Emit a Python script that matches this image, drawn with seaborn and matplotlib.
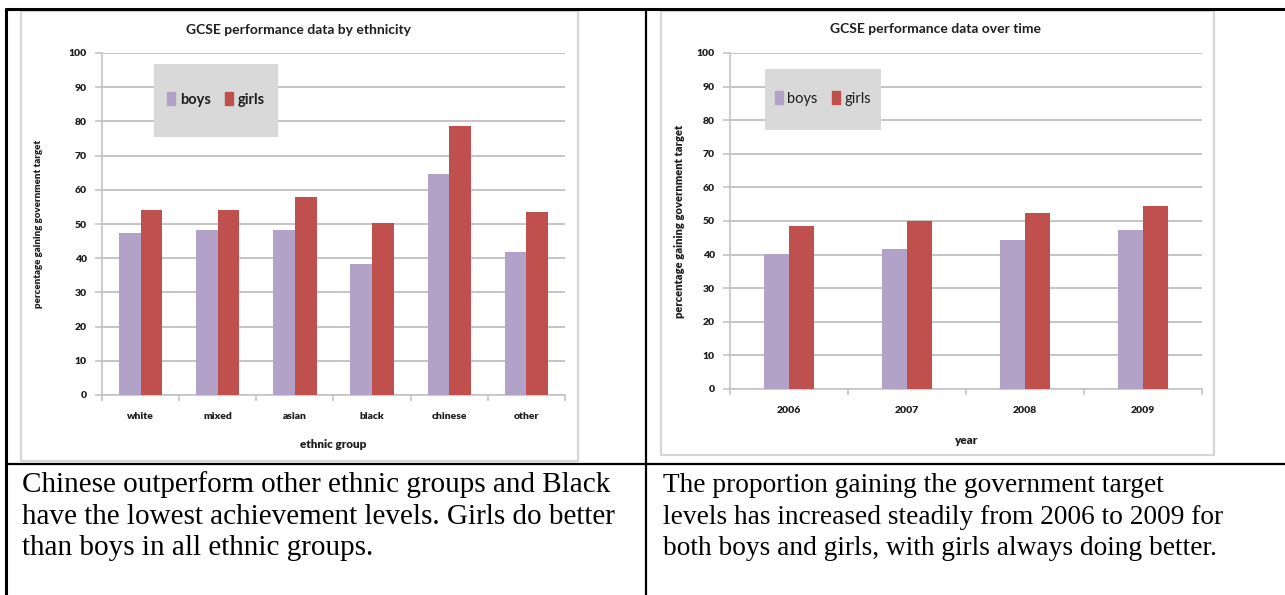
import numpy as np
import pandas as pd
import matplotlib
matplotlib.use("Agg")
import matplotlib.pyplot as plt
from matplotlib.patches import Rectangle
from matplotlib.lines import Line2D
import seaborn as sns

# ---------------- data ----------------
ethnic_groups = ["white", "mixed", "asian", "black", "chinese", "other"]
ethnic_boys = [47.3, 48.1, 48.1, 38.3, 64.7, 41.7]
ethnic_girls = [54.0, 54.1, 58.0, 50.4, 78.7, 53.4]

years = ["2006", "2007", "2008", "2009"]
year_boys = [40.1, 41.7, 44.4, 47.4]
year_girls = [48.4, 50.1, 52.3, 54.5]

series_names = ["boys", "girls"]
yticks = list(range(0, 101, 10))

left_caption = ["Chinese outperform other ethnic groups and Black",
                "have the lowest achievement levels. Girls do better",
                "than boys in all ethnic groups."]
right_caption = ["The proportion gaining the government target",
                 "levels has increased steadily from 2006 to 2009 for",
                 "both boys and girls, with girls always doing better."]

# ---------------- style ----------------
sns.set_theme(style="white")
plt.rcParams["font.family"] = ["Lato", "DejaVu Sans"]

W, H = 1285, 595
fig = plt.figure(figsize=(W / 100, H / 100), dpi=100)
fig.patch.set_facecolor("white")

COL_BOYS = "#b3a2c7"
COL_GIRLS = "#c0504d"
TXT = "#1e1e1e"
GRID = "#c4c4c4"


def fx(x):
    return x / W


def fy(y):
    return 1 - y / H


def px_axes(x0, y0, x1, y1):
    return fig.add_axes([fx(x0), fy(y1), (x1 - x0) / W, (y1 - y0) / H])


# chart frames (light gray boxes)
for (x0, y0, x1, y1) in [(21, 11, 578, 461), (661, 11, 1214, 455)]:
    fig.add_artist(Rectangle((fx(x0), fy(y1)), (x1 - x0) / W, (y1 - y0) / H,
                             transform=fig.transFigure, facecolor="white",
                             edgecolor="#d6d6d6", lw=1.6, zorder=0))


def make_chart(rect, cats, boys, girls, width, xlabel, title, title_xy,
               ylab_x, xlab_y, ylab_size, legend_box, legend_bold):
    ax = px_axes(*rect)
    df = pd.DataFrame({
        "cat": cats * 2,
        "value": list(boys) + list(girls),
        "sex": [series_names[0]] * len(cats) + [series_names[1]] * len(cats),
    })
    sns.barplot(data=df, x="cat", y="value", hue="sex",
                palette=[COL_BOYS, COL_GIRLS], width=width, gap=0,
                saturation=1, ax=ax, legend=False, zorder=3,
                edgecolor="none", linewidth=0)
    ax.set_ylim(0, 100)
    ax.set_xlim(-0.5, len(cats) - 0.5)
    ax.set_facecolor("none")
    for s in ["top", "right"]:
        ax.spines[s].set_visible(False)
    ax.spines["left"].set_color(GRID)
    ax.spines["bottom"].set_color(GRID)
    ax.spines["left"].set_linewidth(1.2)
    ax.spines["bottom"].set_linewidth(1.2)
    ax.yaxis.grid(True, color=GRID, lw=1.4)
    ax.set_axisbelow(True)
    ax.set_xticks(np.arange(-0.5, len(cats), 1), minor=True)
    ax.tick_params(axis="x", which="major", length=0, pad=12)
    ax.tick_params(axis="x", which="minor", length=4, color=GRID, width=1.2,
                   direction="out", bottom=True)
    ax.tick_params(axis="y", which="major", length=5, color=GRID, width=1.2,
                   pad=6, left=True)
    ax.set_yticks(yticks, labels=[str(t) for t in yticks], fontweight="heavy",
                  fontsize=7.5, color=TXT)
    ax.set_xticks(range(len(cats)), labels=cats, fontweight="heavy",
                  fontsize=7.5, color=TXT)
    ax.set_xlabel(xlabel, fontsize=8.5, fontweight="heavy", color=TXT)
    ax.xaxis.set_label_coords(0.5, xlab_y)
    ax.set_ylabel("percentage gaining government target", fontsize=ylab_size,
                  fontweight="heavy", color=TXT)
    ax.yaxis.set_label_coords(ylab_x, 0.5)
    fig.text(fx(title_xy[0]), fy(title_xy[1]), title, ha="center", va="center",
             fontsize=10, fontweight="bold", color=TXT)

    # legend with gray box
    (lx0, ly0, lx1, ly1) = legend_box
    fig.add_artist(Rectangle((fx(lx0), fy(ly1)), (lx1 - lx0) / W, (ly1 - ly0) / H,
                             transform=fig.transFigure, facecolor="#d9d9d9",
                             edgecolor="none", zorder=5))
    handles = [Rectangle((0, 0), 1, 1, color=COL_BOYS),
               Rectangle((0, 0), 1, 1, color=COL_GIRLS)]
    leg = fig.legend(handles, series_names, ncol=2, frameon=False,
                     loc="center",
                     bbox_to_anchor=(fx((lx0 + lx1) / 2), fy((ly0 + ly1) / 2 - 1)),
                     bbox_transform=fig.transFigure,
                     prop={"size": 10.5, "weight": "bold" if legend_bold else "normal"},
                     handlelength=0.55, handleheight=0.9, handletextpad=0.3,
                     columnspacing=1.0, labelcolor=TXT)
    leg.set_zorder(7)
    return ax


make_chart((102, 53, 565, 395), ethnic_groups, ethnic_boys, ethnic_girls, 0.56,
           "ethnic group", "GCSE performance data by ethnicity", (298, 30),
           -0.127, -0.13, 7, (154, 64, 278, 137), True)
make_chart((730, 53, 1202, 389), years, year_boys, year_girls, 0.42,
           "year", "GCSE performance data over time", (936, 29),
           -0.095, -0.137, 8, (765, 69, 881, 130), False)

# table borders
def hline(y, x0, x1, lw):
    fig.add_artist(Line2D([fx(x0), fx(x1)], [fy(y), fy(y)], transform=fig.transFigure,
                          color="black", lw=lw, solid_capstyle="butt", zorder=10))


def vline(x, y0, y1, lw):
    fig.add_artist(Line2D([fx(x), fx(x)], [fy(y0), fy(y1)], transform=fig.transFigure,
                          color="black", lw=lw, solid_capstyle="butt", zorder=10))


hline(9, 4.5, W, 2.2)
hline(464, 5, W, 1.6)
vline(6, 8, H, 2.2)
vline(646, 8, H, 1.6)

# captions
baselines = [492, 523.5, 555]
for i, line in enumerate(left_caption):
    fig.text(fx(22), fy(baselines[i]), line, ha="left", va="baseline",
             fontsize=21, family="Liberation Serif", color="black")
for i, line in enumerate(right_caption):
    fig.text(fx(663), fy(baselines[i]), line, ha="left", va="baseline",
             fontsize=19.7, family="Liberation Serif", color="black")

fig.savefig("out.png", dpi=100)
